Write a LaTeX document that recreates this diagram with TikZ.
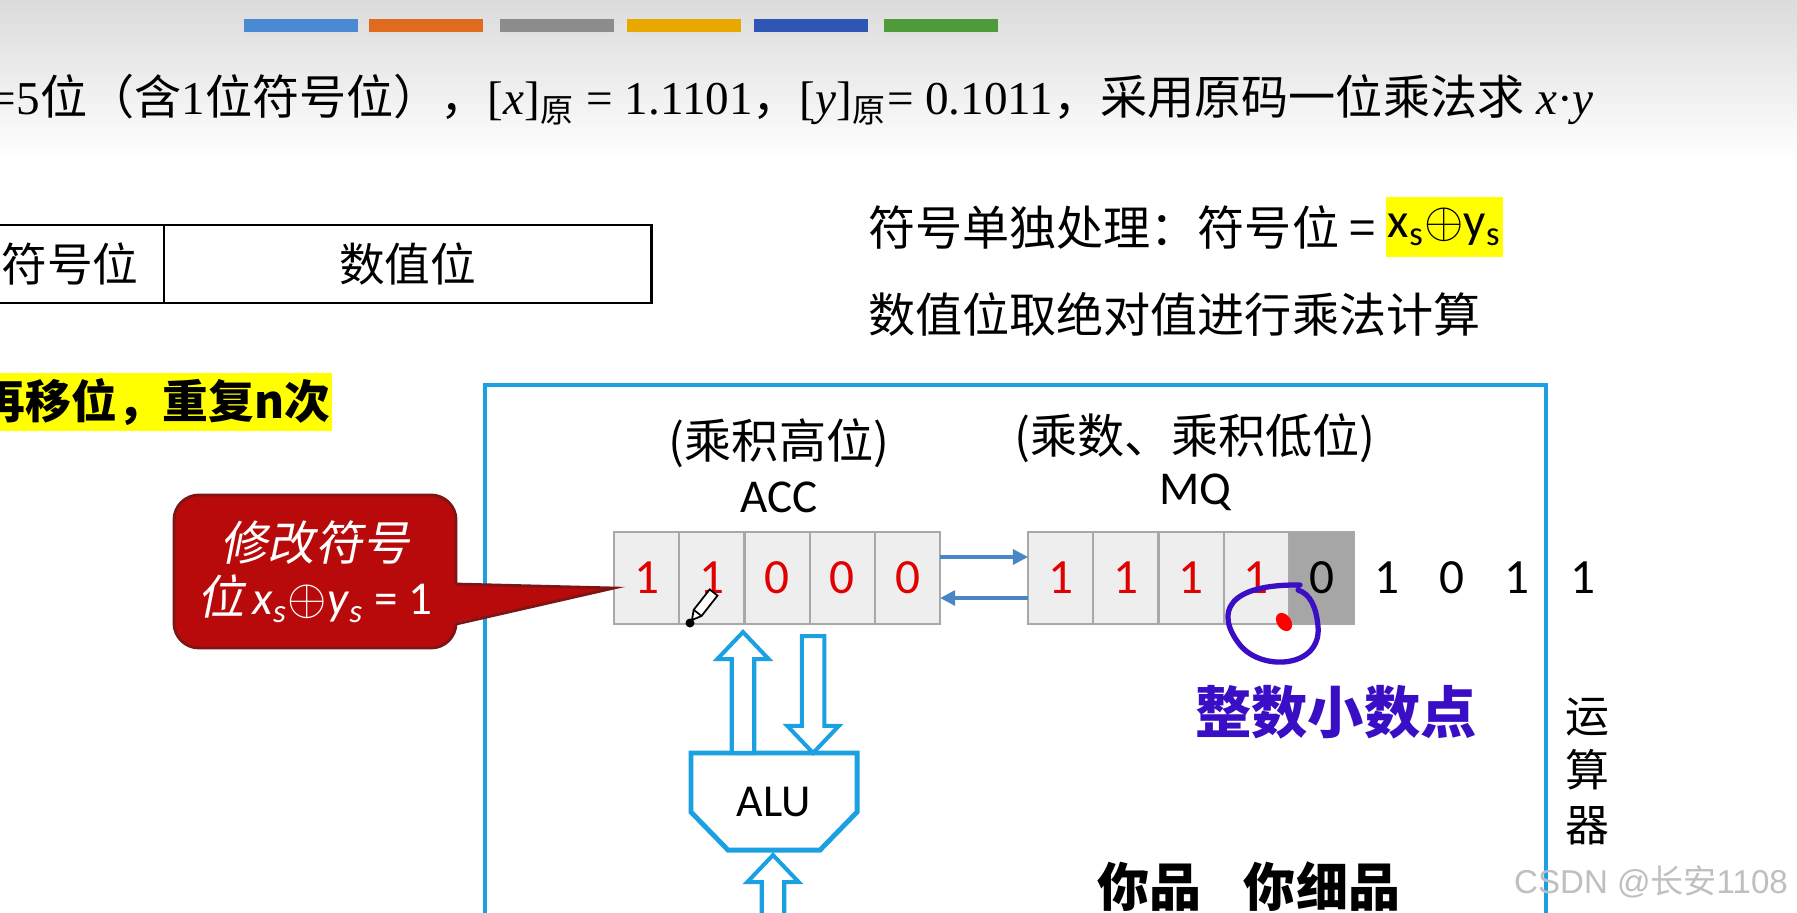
\documentclass[tikz,border=0pt]{standalone}
\usepackage{fontspec}
\setmainfont{Carlito}
\newfontfamily\cjk{Noto Sans CJK SC}
\newfontfamily\cjkit[FakeSlant=0.2]{Noto Sans CJK SC}
\newfontfamily\tnr{Liberation Serif}
\newfontfamily\wmf{Liberation Sans}
\usetikzlibrary{arrows.meta, positioning, calc}

\definecolor{cellfill}{HTML}{EEEEEE}
\definecolor{cellline}{HTML}{A8A8A8}
\definecolor{celldark}{HTML}{A6A6A6}
\definecolor{digred}{HTML}{E00000}
\definecolor{busblue}{HTML}{4A86C6}
\definecolor{alublue}{HTML}{1BA1E2}
\definecolor{hlyellow}{HTML}{FFFF00}
\definecolor{calloutred}{HTML}{B80A0A}
\definecolor{calloutedge}{HTML}{7E1414}
\definecolor{penpurple}{HTML}{3A0EC4}
\definecolor{barblue}{HTML}{4A8AD2}
\definecolor{barorange}{HTML}{E06A1E}
\definecolor{bargray}{HTML}{8C8C8C}
\definecolor{bargold}{HTML}{E8A800}
\definecolor{barnavy}{HTML}{2F56B4}
\definecolor{bargreen}{HTML}{4F9A3A}

% hollow block arrow between two named points (vertical)
\newcommand{\hollowarrow}[2]{%
  \draw[fatarrow] let \p1=(#1), \p2=(#2), \p3=($(#2)!0.27cm!(#1)$) in
    (\x1-3.2pt,\y1) -- (\x1-3.2pt,\y3) -- (\x1-7.3pt,\y3) -- (\x1,\y2)
    -- (\x1+7.3pt,\y3) -- (\x1+3.2pt,\y3) -- (\x1+3.2pt,\y1) -- cycle;}

\begin{document}
\begin{tikzpicture}[
    x=0.01cm, y=-0.01cm,
    every node/.style={inner sep=0pt, outer sep=0pt},
    txt/.style={font=\cjk\fontsize{13.4}{16}\selectfont},
    lbl/.style={font=\fontsize{13.4}{16}\selectfont},
    tabcell/.style={rectangle, draw=black, line width=0.75pt, minimum height=0.78cm,
                    font=\cjk\fontsize{13}{15}\selectfont},
    hilite/.style={fill=hlyellow, inner xsep=0.02cm},
    cell/.style={rectangle, draw=cellline, line width=0.6pt, fill=cellfill,
                 minimum width=0.652cm, minimum height=0.92cm,
                 font=\fontsize{14}{16}\selectfont, text=digred},
    darkcell/.style={cell, fill=celldark, text=black},
    bare/.style={minimum width=0.652cm, minimum height=0.92cm,
                 font=\fontsize{14}{16}\selectfont},
    bus/.style={-{Triangle[length=1.5mm, width=1.5mm]}, line width=0.9pt, draw=busblue},
    fatarrow/.style={draw=alublue, line width=1.15pt, fill=white, line join=miter},
    alubox/.style={draw=alublue, line width=1.4pt, fill=white, line join=miter},
    calloutbox/.style={rectangle, rounded corners=0.25cm, fill=calloutred, draw=calloutedge,
                       line width=0.8pt, minimum width=2.82cm, minimum height=1.53cm,
                       align=center, text=white, font=\fontsize{13.4}{15.5}\selectfont}
]
\useasboundingbox (0,0) rectangle (1797,912);
\clip (0,0) rectangle (1797,912);
\fill[white] (0,0) rectangle (1797,912);
\shade[top color=black!14, bottom color=white] (0,0) rectangle (1797,160);

% slide colour bars
\foreach \x/\c in {244/barblue, 369/barorange, 500/bargray, 627/bargold, 754/barnavy, 884/bargreen} {
  \fill[black!12] (\x,32) rectangle +(114,3);
  \fill[\c] (\x,19) rectangle +(114,13);
}

% task line
\node[anchor=base west, font=\tnr\fontsize{13.4}{15}\selectfont] (task) at (-10,114)
  {=5{\cjk 位（含}1{\cjk 位符号位），}[\textit{x}]\textsubscript{\cjk 原} = 1.1101{\cjk ，}[\textit{y}]\textsubscript{\cjk 原}= 0.1011{\cjk ，采用原码一位乘法求} \textit{x}·\textit{y}};

% sign / value layout
\node[tabcell, minimum width=4.87cm, anchor=west] (valcol) at (164,264) {数值位};
\node[tabcell, minimum width=1.88cm, left=0pt of valcol] (sgncol) {符号位};

\node[txt, anchor=west] (sgnrule) at (868,227) {符号单独处理：符号位 =};
\node[hilite, minimum height=0.6cm, right=0.1cm of sgnrule, font=\fontsize{14}{16}\selectfont]
  (sgnxor) {x\textsubscript{s}$\oplus$y\textsubscript{s}};
\node[txt, anchor=west] (absrule) at (868,314) {数值位取绝对值进行乘法计算};

\node[hilite, anchor=east, minimum height=0.57cm, font=\cjk\bfseries\fontsize{13}{15}\selectfont]
  (repeat) at (332,402) {再移位，重复n次};

% arithmetic unit frame
\draw[alublue, line width=1.4pt] (485,385) rectangle (1546,980);

% registers
\node[lbl] (acclbl) at (779,497) {ACC};
\node[lbl, font=\cjk\fontsize{13.4}{16}\selectfont] (accrole) at (779,443) {(乘积高位)};
\node[lbl] (mqlbl) at (1195,492) {MQ};
\node[lbl, font=\cjk\fontsize{13.4}{16}\selectfont] (mqrole) at (1195,438) {(乘数、乘积低位)};

\node[cell] (acc1) at (646.6,578) {1};
\node[cell, right=0pt of acc1] (acc2) {1};
\node[cell, right=0pt of acc2] (acc3) {0};
\node[cell, right=0pt of acc3] (acc4) {0};
\node[cell, right=0pt of acc4] (acc5) {0};

\node[cell] (mq1) at (1060.6,578) {1};
\node[cell, right=0pt of mq1] (mq2) {1};
\node[cell, right=0pt of mq2] (mq3) {1};
\node[cell, right=0pt of mq3] (mq4) {1};
\node[darkcell, right=0pt of mq4] (mq5) {0};
\node[bare, right=0pt of mq5] (mq6) {1};
\node[bare, right=0pt of mq6] (mq7) {0};
\node[bare, right=0pt of mq7] (mq8) {1};
\node[bare, right=0pt of mq8] (mq9) {1};

\draw[bus] ([yshift=0.21cm]acc5.east) -- ([yshift=0.21cm]mq1.west);
\draw[bus] ([yshift=-0.2cm]mq1.west) -- ([yshift=-0.2cm]acc5.east);

% ALU
\node[minimum width=1.66cm, minimum height=0.97cm, font=\fontsize{13}{15}\selectfont] (alu) at (774,801.5) {};
\draw[alubox] (alu.north west) -- (alu.north east) -- ([yshift=-0.59cm]alu.north east)
  -- ([xshift=-0.37cm]alu.south east) -- ([xshift=0.37cm]alu.south west)
  -- ([yshift=-0.59cm]alu.north west) -- cycle;
\node[font=\fontsize{13}{15}\selectfont] (alutxt) at (alu) {ALU};

\coordinate (upfoot) at ([xshift=-0.31cm]alu.north);
\coordinate (uptip) at ([xshift=-0.34cm, yshift=-0.08cm]acc3.south);
\coordinate (downtop) at ([xshift=0.36cm, yshift=-0.12cm]acc3.south);
\coordinate (downtip) at ([xshift=0.36cm]alu.north);
\coordinate (aluin) at (773,990);
\coordinate (aluintip) at ([yshift=-0.05cm]alu.south);
\hollowarrow{upfoot}{uptip}
\hollowarrow{downtop}{downtip}
\hollowarrow{aluin}{aluintip}

\node[align=center, font=\cjk\fontsize{12.5}{15.5}\selectfont] (unitlbl) at (1587,771) {运\\算\\器};

% callout on the sign bit
\node[calloutbox] (fix) at (315,571.5)
  {{\cjkit 修改符号}\\{\cjkit 位}\,\textit{x}\textsubscript{\textit{s}}$\oplus$\textit{y}\textsubscript{\textit{s}} = 1};
\fill[calloutred] ([shift={(-0.06cm,-0.125cm)}]fix.east) -- ([yshift=-0.1cm]acc1.west)
  -- ([shift={(-0.06cm,-0.525cm)}]fix.east) -- cycle;
\draw[calloutedge, line width=0.8pt] ([yshift=-0.125cm]fix.east) -- ([yshift=-0.1cm]acc1.west)
  -- ([yshift=-0.525cm]fix.east);

% pen cursor
\draw[fill=white, line width=0.5pt] (692,620) -- (701.5,616) -- (717.5,595.6) -- (709.7,589.4) -- (693.7,609.8) -- cycle;
\draw[line width=0.5pt] (701.5,616) -- (693.7,609.8);
\fill (690,623) circle (0.045cm);

% handwritten notes
\draw[penpurple, line width=1.5pt, line cap=round]
  (1300,585) .. controls (1228,584) and (1214,612) .. (1240,645)
  .. controls (1262,672) and (1322,668) .. (1318,626)
  .. controls (1316,606) and (1310,594) .. (1298,590);
\fill[red, rotate around={35:(1284,622)}] (1284,622) ellipse (0.07cm and 0.1cm);
\node[font=\cjk\bfseries\fontsize{16}{19}\selectfont, text=penpurple] (note) at (1336,712) {整数小数点};

\node[anchor=north, font=\cjk\bfseries\fontsize{14.8}{17}\selectfont] (pinch) at (1249,862) {你品\hspace{0.42cm}你细品};

\node[font=\wmf\fontsize{9.4}{11}\selectfont, text=black!25] (wm) at (1651,882) {CSDN @{\cjk 长安}1108};
\end{tikzpicture}
\end{document}
